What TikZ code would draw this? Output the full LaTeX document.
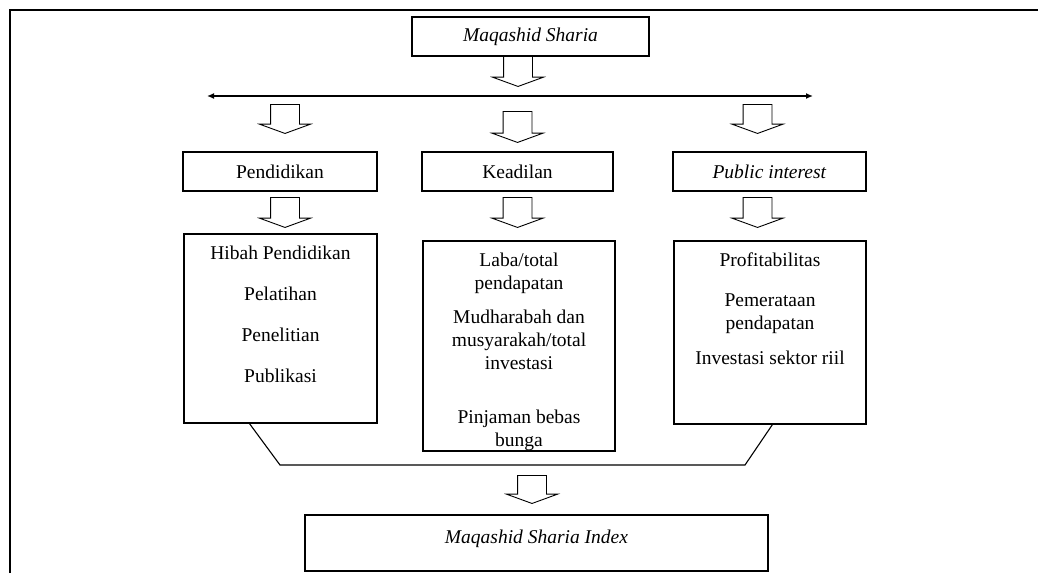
\documentclass[tikz,border=0pt]{standalone}
\usepackage{fontspec}
\setmainfont{Liberation Serif}
\usetikzlibrary{positioning,arrows.meta,shapes.arrows}

\begin{document}
\begin{tikzpicture}[
  x=1pt, y=1pt,
  box/.style={draw, line width=1.1pt, rectangle, inner sep=0pt, minimum height=39pt, font=\fontsize{19.5}{23}\selectfont},
  listbox/.style={draw, line width=1.1pt, rectangle, inner sep=0pt, minimum width=193pt},
  txt/.style={font=\fontsize{19.5}{23}\selectfont, align=center, inner sep=0pt},
  hollow/.style={draw, line width=0.9pt, shape=single arrow, shape border rotate=270, inner xsep=14pt, inner ysep=0pt, minimum width=50pt, minimum height=30pt, single arrow head extend=11pt, single arrow tip angle=140, anchor=tail},
  arr/.style={{Latex[length=7pt,width=6pt]}-{Latex[length=7pt,width=6pt]}, line width=1.5pt},
  line/.style={line width=1.1pt}
]
\useasboundingbox (0,0) rectangle (1038,-573);
\draw[line width=1.6pt] (10,-573) -- (10,-10) -- (1038,-10);

% top
\node[box, minimum width=237pt] (ms) at (530.5,-36.5) {\textit{Maqashid Sharia}};
\node[hollow] (a0) at (518,-56) {};
\coordinate (lineL) at (207,-96);
\coordinate (lineR) at (813,-96);
\draw[arr] (lineL) -- (lineR);

% three aspects
\node[hollow, minimum height=29pt] (a1) at (285,-104) {};
\node[hollow, minimum height=31pt] (a2) at (517.5,-111) {};
\node[hollow, minimum height=29pt] (a3) at (757.5,-104) {};
\node[box, minimum width=194pt] (pend) at (280,-171.5) {Pendidikan};
\node[box, minimum width=191pt] (kead) at (517.5,-171.5) {Keadilan};
\node[box, minimum width=193pt] (pub) at (769.5,-171.5) {\textit{Public interest}};
\node[hollow] (a4) at (285,-197) {};
\node[hollow] (a5) at (517.5,-197) {};
\node[hollow] (a6) at (757.5,-197) {};

% indicators
\node[listbox, minimum height=189pt] (hibahbox) at (280.5,-328.5) {};
\node[listbox, minimum width=192pt, minimum height=210pt] (lababox) at (519,-346) {};
\node[listbox, minimum width=192pt, minimum height=183pt] (profbox) at (770,-332.5) {};
\node[txt, below=12pt of hibahbox.north] (hibah) {Hibah Pendidikan\\[18pt]Pelatihan\\[18pt]Penelitian\\[18pt]Publikasi};
\node[txt, below=12pt of lababox.north] (laba) {Laba/total\\pendapatan\\[11pt]Mudharabah dan\\musyarakah/total\\investasi\\[31pt]Pinjaman bebas\\bunga};
\node[txt, below=12pt of profbox.north] (prof) {Profitabilitas\\[17pt]Pemerataan\\pendapatan\\[12pt]Investasi sektor riil};

% bracket and index
\coordinate (brL) at (280,-465);
\coordinate (brR) at (745,-465);
\draw[line] ([xshift=66pt]hibahbox.south west) -- (brL) -- (brR) -- ([xshift=99pt]profbox.south west);
\node[hollow, minimum height=28pt] (a7) at (532,-475) {};
\node[listbox, minimum width=463pt, minimum height=56pt] (msibox) at (536.5,-543) {};
\node[txt, below=15pt of msibox.north] (msi) {\textit{Maqashid Sharia Index}};
\end{tikzpicture}
\end{document}
